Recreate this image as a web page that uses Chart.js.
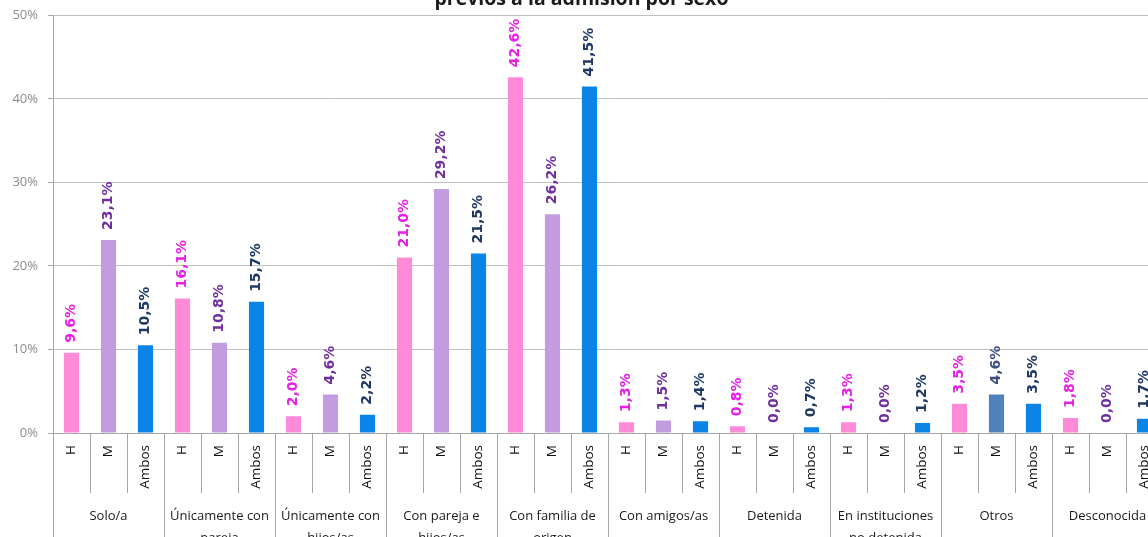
<!DOCTYPE html>
<html>
<head>
<meta charset="utf-8">
<script src="https://cdn.jsdelivr.net/npm/chart.js@4.4.1/dist/chart.umd.min.js"></script>
<style>
  html, body { margin: 0; padding: 0; background: #fff; overflow: hidden; }
  #wrap { position: absolute; left: 0; top: -20px; }
</style>
</head>
<body>
<div id="wrap"><canvas id="chart" width="1172" height="613"></canvas></div>
<script>
var groupLabels = [
    'Solo/a',
    ['Únicamente con', 'pareja'],
    ['Únicamente con', 'hijos/as'],
    ['Con pareja e', 'hijos/as'],
    ['Con familia de', 'origen'],
    'Con amigos/as',
    'Detenida',
    ['En instituciones', 'no detenida'],
    'Otros',
    'Desconocida'
];
var sexLabels = ['H', 'M', 'Ambos'];
var hombres = [9.6, 16.1, 2.0, 21.0, 42.6, 1.3, 0.8, 1.3, 3.5, 1.8];
var mujeres = [23.1, 10.8, 4.6, 29.2, 26.2, 1.5, 0.0, 0.0, 4.6, 0.0];
var ambos = [10.5, 15.7, 2.2, 21.5, 41.5, 1.4, 0.7, 1.2, 3.5, 1.7];
var yTicks = [0, 10, 20, 30, 40, 50];

var barColors = ['#FF8AD8', '#C39BDF', '#0A84E6'];
var labelColors = ['#E61EE6', '#7030A0', '#1F3864'];

// interleave H / M / Ambos for each group
var labels = [], values = [], colors = [], textColors = [];
groupLabels.forEach(function (g, i) {
    [hombres[i], mujeres[i], ambos[i]].forEach(function (v, j) {
        labels.push(sexLabels[j]);
        values.push(v);
        colors.push(barColors[j]);
        textColors.push(labelColors[j]);
    });
});
// "Otros" M bar is drawn in a different blue in the original
var otros = groupLabels.indexOf('Otros') * 3 + 1;
colors[otros] = '#4F81BD';
textColors[otros] = '#3F4F7F';

var barLabels = {
    id: 'barLabels',
    afterDatasetsDraw: function (chart) {
        var ctx = chart.ctx;
        var meta = chart.getDatasetMeta(0);
        ctx.save();
        ctx.font = 'bold 14px "DejaVu Sans"';
        ctx.textAlign = 'left';
        ctx.textBaseline = 'middle';
        meta.data.forEach(function (bar, i) {
            ctx.save();
            ctx.translate(bar.x, bar.y - 10);
            ctx.rotate(-Math.PI / 2);
            ctx.fillStyle = textColors[i];
            ctx.fillText(values[i].toFixed(1).replace('.', ',') + '%', 0, 0);
            ctx.restore();
        });
        ctx.restore();
    }
};

var axisGray = '#A6A6A6';
var textFont = { family: 'Open Sans', size: 13 };

new Chart(document.getElementById('chart').getContext('2d'), {
    type: 'bar',
    data: {
        labels: labels,
        datasets: [{
            data: values,
            backgroundColor: colors,
            borderWidth: 0,
            barPercentage: 0.41,
            categoryPercentage: 1
        }]
    },
    options: {
        responsive: false,
        animation: false,
        devicePixelRatio: 1,
        layout: { padding: { top: 8, left: 0, right: 9, bottom: 0 } },
        plugins: {
            legend: { display: false },
            tooltip: { enabled: false },
            title: {
                display: true,
                text: 'previos a la admisión por sexo',
                color: '#1a1a1a',
                font: { family: 'Open Sans', size: 19.5, weight: 'bold' },
                padding: { top: 0, bottom: 4 }
            }
        },
        scales: {
            y: {
                min: 0,
                max: 50,
                afterBuildTicks: function (s) {
                    s.ticks = yTicks.map(function (v) { return { value: v }; });
                },
                afterFit: function (s) { s.width = 53; },
                grid: { color: '#C0C0C0', tickLength: 5, tickColor: axisGray },
                border: { color: axisGray },
                ticks: {
                    padding: 10,
                    color: '#8C8C8C',
                    font: textFont,
                    callback: function (v) { return v + '%'; }
                }
            },
            x: {
                weight: 0,
                offset: true,
                grid: { offset: true, drawOnChartArea: false, tickLength: 60, color: axisGray },
                border: { color: axisGray },
                ticks: {
                    autoSkip: false,
                    minRotation: 90,
                    maxRotation: 90,
                    padding: -48,
                    color: '#111111',
                    font: { family: 'Open Sans', size: 13.5 }
                },
                afterFit: function (s) { s.height = 60; }
            },
            x2: {
                axis: 'x',
                type: 'category',
                labels: groupLabels,
                position: 'bottom',
                weight: 1,
                offset: true,
                grid: { offset: true, drawOnChartArea: false, tickLength: 100, color: axisGray },
                border: { display: false },
                ticks: {
                    autoSkip: false,
                    minRotation: 0,
                    maxRotation: 0,
                    padding: -88,
                    color: '#1a1a1a',
                    font: { family: 'Open Sans', size: 13, lineHeight: 1.7 }
                },
                afterFit: function (s) { s.height = 100; }
            }
        }
    },
    plugins: [barLabels]
});
</script>
</body>
</html>
